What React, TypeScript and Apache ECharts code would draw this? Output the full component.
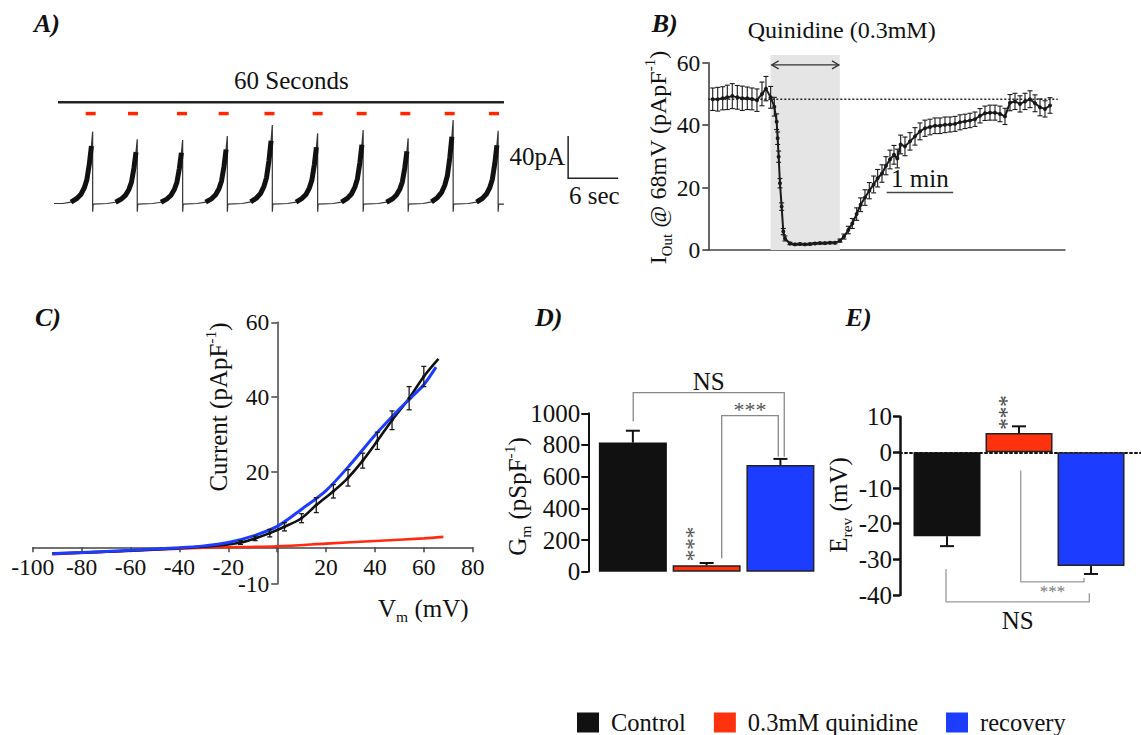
import React, { useEffect, useRef } from "react";
import * as echarts from "echarts";

const FF = '"Liberation Serif","Times New Roman",serif';

// ---------- Panel A: raw current trace ----------
const aDropTimes = [4.64, 9.99, 15.44, 20.8, 26.2, 31.64, 37.1, 42.5, 47.9, 53.3]; // s
const aPeaks = [67.9, 60.7, 60.0, 63.8, 74.2, 66.4, 69.5, 61.6, 78.9, 68.8]; // pA
const aRiseOffsets = [-3.6, -2.6, -1.9, -1.4, -1.0, -0.7, -0.4, -0.15, 0]; // s before drop
const aRiseFraction = [0, 0.02, 0.07, 0.13, 0.22, 0.33, 0.55, 0.8, 1];
const aDropMin = -7.8;
const aAfterDrop = -0.5;
const aTraceEnd = 54.0;
const aTopLine = [0.48, 54.0, 95.6]; // start s, end s, level
const aDashCenters = [4.4, 9.48, 15.36, 20.36, 25.86, 31.64, 36.92, 42.16, 47.48, 52.8];
const aDashLevel = 85;
const aDashHalf = 0.6;
const aScale = { t: 61.7, i: 23.8, sec: 6, pA: 40 };

// ---------- Panel B: time course ----------
const bTime = [0.066, 0.141, 0.216, 0.285, 0.36, 0.435, 0.51, 0.585, 0.655, 0.73, 0.805, 0.865, 0.935,
  0.99, 1.025, 1.04, 1.055, 1.075, 1.1, 1.125, 1.15,
  1.225, 1.3, 1.375, 1.45, 1.525, 1.6, 1.675, 1.75, 1.825, 1.9,
  1.975, 2.035, 2.1, 2.16, 2.225, 2.285, 2.35, 2.415, 2.48, 2.54, 2.605, 2.665, 2.725, 2.785, 2.835, 2.885, 2.95,
  3.025, 3.1, 3.175, 3.25, 3.325, 3.4, 3.475, 3.55, 3.625, 3.7, 3.775, 3.85, 3.925, 4.0, 4.075, 4.15, 4.225, 4.3,
  4.375, 4.45, 4.525, 4.6, 4.675, 4.75, 4.825, 4.9, 4.975, 5.05, 5.125];
const bMean = [48.3, 48.3, 48.6, 48.9, 49.3, 48.9, 48.6, 48.6, 48.4, 48.0, 50.0, 51.7, 48.9,
  45.9, 41.1, 35.8, 29.9, 21.4, 13.9, 5.9, 3.7,
  2.1, 1.8, 1.9, 1.8, 1.9, 2.1, 2.2, 2.2, 2.3, 2.3,
  3.0, 4.3, 6.4, 8.5, 11.5, 14.5, 16.8, 19.0, 21.0, 23.0, 24.5, 27.0, 29.0, 30.5, 29.3, 33.8, 33.2,
  34.8, 36.4, 38.0, 39.0, 39.4, 39.8, 39.8, 40.1, 40.2, 40.4, 40.9, 41.2, 41.5, 41.9, 43.0, 43.8, 44.0, 44.0,
  43.6, 42.8, 47.2, 47.6, 46.8, 47.6, 48.3, 47.0, 45.7, 45.2, 46.3];
const bErr = [3.6, 3.8, 3.7, 3.9, 4.0, 3.8, 3.9, 3.6, 3.5, 3.6, 3.8, 3.9, 3.5,
  3.0, 2.5, 2.0, 1.8, 1.5, 1.2, 1.0, 0.8,
  0.4, 0.3, 0.3, 0.3, 0.3, 0.3, 0.3, 0.3, 0.3, 0.3,
  0.5, 0.8, 1.2, 1.6, 2.0, 2.2, 2.5, 2.6, 2.7, 2.8, 2.8, 2.9, 3.0, 3.0, 3.0, 3.0, 3.0,
  2.8, 2.8, 2.7, 2.6, 2.5, 2.5, 2.5, 2.5, 2.4, 2.4, 2.4, 2.3, 2.3, 2.3, 2.3, 2.3, 2.4, 2.4,
  2.5, 2.6, 2.6, 2.6, 2.6, 2.6, 2.7, 2.7, 2.7, 2.6, 2.5];
const bDrug = [0.934, 1.973, 62.5]; // start, end (min), top
const bArrow = [0.95, 1.96, 59.3];
const bControlLevel = [0, 5.24, 48.3];
const bMinuteBar = [2.675, 3.673, 18.4];

// ---------- Panel C: I-V curves ----------
const cBlackV = [-92, -80, -60, -40, -30, -20, -15, -9, -3, 3, 10, 16, 23, 29, 35, 41, 47, 54, 60, 66];
const cBlackI = [-1.8, -1.6, -1.1, -0.4, 0, 0.6, 1.1, 2.2, 3.6, 5.3, 7.6, 11.1, 14.8, 18.4, 23.0, 28.3, 33.8, 39.7, 45.5, 50.2];
const cBlackErrV = [-15, -9, -3, 3, 10, 16, 23, 29, 35, 41, 47, 54, 60];
const cBlackErr = [0.5, 0.6, 1.0, 1.1, 1.2, 2.0, 1.8, 2.2, 2.0, 2.3, 2.5, 3.1, 2.7];
const cBlueV = [-92, -80, -60, -40, -30, -20, -10, 0, 10, 20, 30, 40, 50, 55, 60, 65];
const cBlueI = [-1.9, -1.6, -1.0, -0.3, 0.2, 1.1, 2.8, 5.4, 10.0, 15.0, 22.0, 29.8, 36.8, 40.0, 43.3, 48.0];
const cRedV = [-92, -60, -30, 0, 20, 40, 60, 68];
const cRedI = [-2.0, -1.1, -0.3, 0.1, 0.8, 1.5, 2.2, 2.6];
const cXTicks = [-100, -80, -60, -40, -20, 0, 20, 40, 60, 80];
const cYTickLabels = [-10, 20, 40, 60];

// ---------- Panels D & E: bars ----------
const groups = ["Control", "0.3mM quinidine", "recovery"];
const groupColors = ["#111111", "#ff3210", "#1c3cff"];
const dGm = [815, 40, 674];
const dGmErr = [75, 15, 38];
const eRev = [-23.5, 5.4, -31.9];
const eRevErr = [2.8, 1.9, 2.2];
// brackets: [xLeft, xRight, yBar, yLeftEnd, yRightEnd]
const dBracketNS = [0.005, 2.052, 1131, 948, 726];
const dBracketStars = [1.204, 1.971, 985, 85, 726];
const eBracketStars = [1.024, 1.903, -36.3, -5.1, -35.2];
const eBracketNS = [-0.014, 1.976, -41.9, -32.7, -39.5];

const cIdx = (v: number[], i: number[]) => v.map((x, k) => [x, i[k]]);

function buildTrace() {
  const pts: number[][] = [[0, 0]];
  aDropTimes.forEach((T, k) => {
    const P = aPeaks[k];
    aRiseOffsets.forEach((o, j) => pts.push([T + o, P * aRiseFraction[j]]));
    pts.push([T, aDropMin]);
    pts.push([T + 0.06, aAfterDrop]);
  });
  pts.push([aTraceEnd, aAfterDrop]);
  return pts;
}
function buildBands() {
  return aDropTimes.map((T, k) => ({
    coords: aRiseOffsets.slice(1, 8).map((o, j) => [T + o, aPeaks[k] * aRiseFraction[j + 1]]),
  }));
}

const axisTxt = (size: number) => ({ fontSize: size, fontFamily: FF, color: "#111" });

function bracketSeries(ai: number, b: number[], label: string, dy: number, color: string, fontSize: number, labelColor: string) {
  return {
    type: "custom",
    xAxisIndex: ai,
    yAxisIndex: ai,
    clip: false,
    silent: true,
    z: 6,
    data: [b],
    renderItem: (_p: any, api: any) => {
      const L = api.coord([api.value(0), api.value(2)]);
      const R = api.coord([api.value(1), api.value(2)]);
      const Lb = api.coord([api.value(0), api.value(3)]);
      const Rb = api.coord([api.value(1), api.value(4)]);
      return {
        type: "group",
        children: [
          { type: "polyline", shape: { points: [Lb, L, R, Rb] }, style: { stroke: color, lineWidth: 1.3, fill: "none" } },
          {
            type: "text",
            x: (L[0] + R[0]) / 2,
            y: L[1] + dy,
            style: { text: label, fontFamily: FF, fontSize, fill: labelColor, align: "center", verticalAlign: "middle" },
          },
        ],
      };
    },
  };
}

function barErrSeries(ai: number, means: number[], errs: number[]) {
  return {
    type: "custom",
    xAxisIndex: ai,
    yAxisIndex: ai,
    clip: false,
    silent: true,
    z: 4,
    data: means.map((m, i) => [i, m, errs[i]]),
    renderItem: (_p: any, api: any) => {
      const x = api.value(0), m = api.value(1), e = api.value(2);
      const dir = m < 0 ? -1 : 1;
      const a = api.coord([x, m]);
      const b = api.coord([x, m + dir * Math.abs(e)]);
      const w = 7;
      const st = { stroke: "#111", lineWidth: 2 };
      return {
        type: "group",
        children: [
          { type: "line", shape: { x1: a[0], y1: a[1], x2: b[0], y2: b[1] }, style: st },
          { type: "line", shape: { x1: b[0] - w, y1: b[1], x2: b[0] + w, y2: b[1] }, style: st },
        ],
      };
    },
  };
}

function ptErrSeries(ai: number, xs: number[], ms: number[], es: number[], w: number, lw: number, dot: number) {
  return {
    type: "custom",
    xAxisIndex: ai,
    yAxisIndex: ai,
    clip: false,
    silent: true,
    z: 5,
    data: xs.map((x, i) => [x, ms[i], es[i]]),
    renderItem: (_p: any, api: any) => {
      const x = api.value(0), m = api.value(1), e = api.value(2);
      const t = api.coord([x, m + e]);
      const b = api.coord([x, m - e]);
      const c = api.coord([x, m]);
      const st = { stroke: "#1a1a1a", lineWidth: lw };
      const ch: any[] = [
        { type: "line", shape: { x1: t[0], y1: t[1], x2: b[0], y2: b[1] }, style: st },
        { type: "line", shape: { x1: t[0] - w, y1: t[1], x2: t[0] + w, y2: t[1] }, style: st },
        { type: "line", shape: { x1: b[0] - w, y1: b[1], x2: b[0] + w, y2: b[1] }, style: st },
      ];
      if (dot > 0) ch.push({ type: "circle", shape: { cx: c[0], cy: c[1], r: dot }, style: { fill: "#111" } });
      return { type: "group", children: ch };
    },
  };
}

function txt(text: string, x: number, y: number, o: any = {}) {
  return {
    type: "text",
    x,
    y,
    rotation: o.rot || 0,
    silent: true,
    style: {
      text,
      fontFamily: FF,
      fontSize: o.size || 25,
      fontWeight: o.bold ? "bold" : "normal",
      fontStyle: o.italic ? "italic" : "normal",
      fill: o.fill || "#111",
      align: o.align || "center",
      verticalAlign: o.va || "middle",
      rich: o.rich,
    },
  };
}

const richLabel = (size: number) => ({
  n: { fontSize: size, fontFamily: FF, fill: "#111", lineHeight: 32 },
  sub: { fontSize: size * 0.62, fontFamily: FF, fill: "#111", verticalAlign: "bottom" },
  sup: { fontSize: size * 0.62, fontFamily: FF, fill: "#111", verticalAlign: "top" },
});

// C grid geometry
const C_LEFT = 32.7, C_TOP = 322.3, C_W = 440, C_H = 261.7;
const C_X0 = 277.3, C_Y0 = 547.3; // pixel of x=0 and y=0 (where the axes cross)

function buildOption() {
  const hiddenAxis = { show: false };
  const series: any[] = [];

  // A
  series.push({
    type: "line", xAxisIndex: 0, yAxisIndex: 0, data: buildTrace(), symbol: "none", silent: true,
    lineStyle: { color: "#333", width: 1.2 }, z: 2,
  });
  series.push({
    type: "lines", coordinateSystem: "cartesian2d", xAxisIndex: 0, yAxisIndex: 0, polyline: true, silent: true,
    data: buildBands(), lineStyle: { color: "#111", width: 5, opacity: 1 }, z: 3,
  });
  series.push({
    type: "custom", xAxisIndex: 0, yAxisIndex: 0, clip: false, silent: true, z: 4, data: [[0, 0]],
    renderItem: (_p: any, api: any) => {
      const ch: any[] = [];
      const a = api.coord([aTopLine[0], aTopLine[2]]), b = api.coord([aTopLine[1], aTopLine[2]]);
      ch.push({ type: "line", shape: { x1: a[0], y1: a[1], x2: b[0], y2: b[1] }, style: { stroke: "#222", lineWidth: 2.5 } });
      aDashCenters.forEach((t) => {
        const l = api.coord([t - aDashHalf, aDashLevel]), r = api.coord([t + aDashHalf, aDashLevel]);
        ch.push({ type: "line", shape: { x1: l[0], y1: l[1], x2: r[0], y2: r[1] }, style: { stroke: "#ff2600", lineWidth: 3.5 } });
      });
      const o = api.coord([aScale.t, aScale.i]);
      const top = api.coord([aScale.t, aScale.i + aScale.pA]);
      const right = api.coord([aScale.t + aScale.sec, aScale.i]);
      ch.push({ type: "polyline", shape: { points: [top, o, right] }, style: { stroke: "#222", lineWidth: 1.5, fill: "none" } });
      return { type: "group", children: ch };
    },
  });

  // B
  series.push({
    type: "custom", xAxisIndex: 1, yAxisIndex: 1, clip: false, silent: true, z: 1, data: [[0, 0]],
    renderItem: (_p: any, api: any) => {
      const p0 = api.coord([bDrug[0], bDrug[2]]);
      const p1 = api.coord([bDrug[1], 0]);
      const a0 = api.coord([bArrow[0], bArrow[2]]);
      const a1 = api.coord([bArrow[1], bArrow[2]]);
      const h = 5;
      const st = { stroke: "#333", lineWidth: 1.2, fill: "none" };
      return {
        type: "group",
        children: [
          { type: "rect", shape: { x: p0[0], y: p0[1], width: p1[0] - p0[0], height: p1[1] - p0[1] }, style: { fill: "#e5e5e5" } },
          { type: "line", shape: { x1: a0[0], y1: a0[1], x2: a1[0], y2: a1[1] }, style: st },
          { type: "polyline", shape: { points: [[a0[0] + 7, a0[1] - h + 1], [a0[0], a0[1]], [a0[0] + 7, a0[1] + h - 1]] }, style: st },
          { type: "polyline", shape: { points: [[a1[0] - 7, a1[1] - h + 1], [a1[0], a1[1]], [a1[0] - 7, a1[1] + h - 1]] }, style: st },
        ],
      };
    },
  });
  series.push({
    type: "custom", xAxisIndex: 1, yAxisIndex: 1, clip: false, silent: true, z: 2, data: [[0, 0]],
    renderItem: (_p: any, api: any) => {
      const a = api.coord([bControlLevel[0], bControlLevel[2]]);
      const b = api.coord([bControlLevel[1], bControlLevel[2]]);
      return { type: "line", shape: { x1: a[0], y1: a[1], x2: b[0], y2: b[1] }, style: { stroke: "#222", lineWidth: 1.5, lineDash: [2, 2] } };
    },
  });
  series.push({
    type: "line", xAxisIndex: 1, yAxisIndex: 1, data: cIdx(bTime, bMean), symbol: "circle", symbolSize: 4, silent: true,
    lineStyle: { color: "#1a1a1a", width: 2 }, itemStyle: { color: "#1a1a1a" }, z: 3,
  });
  series.push(ptErrSeries(1, bTime, bMean, bErr, 2.5, 1.1, 0));
  series.push({
    type: "custom", xAxisIndex: 1, yAxisIndex: 1, clip: false, silent: true, z: 6, data: [[0, 0]],
    renderItem: (_p: any, api: any) => {
      const a = api.coord([bMinuteBar[0], bMinuteBar[2]]);
      const b = api.coord([bMinuteBar[1], bMinuteBar[2]]);
      return {
        type: "group",
        children: [
          { type: "line", shape: { x1: a[0], y1: a[1], x2: b[0], y2: b[1] }, style: { stroke: "#444", lineWidth: 1.5 } },
          { type: "text", x: (a[0] + b[0]) / 2, y: a[1] - 2, style: { text: "1 min", fontFamily: FF, fontSize: 25, fill: "#111", align: "center", verticalAlign: "bottom" } },
        ],
      };
    },
  });

  // C
  series.push({
    type: "line", xAxisIndex: 2, yAxisIndex: 2, data: cIdx(cRedV, cRedI), symbol: "none", smooth: 0.3, silent: true,
    lineStyle: { color: "#ff2a10", width: 2.6 }, z: 2,
  });
  series.push({
    type: "line", xAxisIndex: 2, yAxisIndex: 2, data: cIdx(cBlackV, cBlackI), symbol: "none", smooth: 0.3, silent: true,
    lineStyle: { color: "#111", width: 2.6 }, z: 3,
  });
  series.push({
    type: "line", xAxisIndex: 2, yAxisIndex: 2, data: cIdx(cBlueV, cBlueI), symbol: "none", smooth: 0.3, silent: true,
    lineStyle: { color: "#1c3cff", width: 3 }, z: 4,
  });
  series.push(ptErrSeries(2, cBlackErrV, cBlackErrV.map((v) => cBlackI[cBlackV.indexOf(v)]), cBlackErr, 2.5, 1.3, 1.6));

  // D & E bars
  groups.forEach((g, i) => {
    const isBlack = i === 0;
    const base = {
      type: "bar", name: g, barGap: "-100%", silent: true, z: 2,
      itemStyle: { color: groupColors[i], borderColor: isBlack ? groupColors[i] : "#222", borderWidth: isBlack ? 0 : 1.5 },
    };
    series.push({ ...base, xAxisIndex: 3, yAxisIndex: 3, barWidth: 68, data: [[i, dGm[i]]] });
    series.push({ ...base, xAxisIndex: 4, yAxisIndex: 4, barWidth: 67, data: [[i, eRev[i]]] });
  });
  series.push(barErrSeries(3, dGm, dGmErr));
  series.push(barErrSeries(4, eRev, eRevErr));
  series.push(bracketSeries(3, dBracketNS, "NS", -11, "#888", 25, "#111"));
  series.push(bracketSeries(3, dBracketStars, "***", -6, "#888", 22, "#555"));
  series.push(bracketSeries(4, eBracketStars, "***", 10, "#999", 17, "#777"));
  series.push(bracketSeries(4, eBracketNS, "NS", 19, "#999", 25, "#111"));

  const noGrid = { show: false };
  const plain = (v: number) => String(v);
  return {
    animation: false,
    backgroundColor: "#fff",
    textStyle: { fontFamily: FF },
    grid: [
      { left: 54, top: 97.7, width: 583.3, height: 116.4, outerBoundsMode: "none", containLabel: false },
      { left: 708.3, top: 62.7, width: 356.7, height: 187.3, outerBoundsMode: "none", containLabel: false },
      { left: C_LEFT, top: C_TOP, width: C_W, height: C_H, outerBoundsMode: "none", containLabel: false },
      { left: 588.3, top: 413.3, width: 229, height: 158.4, outerBoundsMode: "none", containLabel: false },
      { left: 900, top: 416.7, width: 241, height: 178.3, outerBoundsMode: "none", containLabel: false },
    ],
    xAxis: [
      { gridIndex: 0, type: "value", min: 0, max: 70, ...hiddenAxis },
      {
        gridIndex: 1, type: "value", min: 0, max: 5.35,
        axisLine: { show: true, onZero: false, lineStyle: { color: "#444", width: 1.5 } },
        axisTick: { show: false }, axisLabel: { show: false }, splitLine: noGrid,
      },
      {
        gridIndex: 2, type: "value", min: -100, max: 80, interval: 20, position: "bottom",
        offset: -(C_TOP + C_H - C_Y0),
        axisLine: { show: true, onZero: false, lineStyle: { color: "#444", width: 1.5 } },
        axisTick: { show: true, inside: false, length: 5, customValues: cXTicks, lineStyle: { color: "#444", width: 1.5 } },
        axisLabel: {
          ...axisTxt(23.5), margin: 8, showMinLabel: true, showMaxLabel: true,
          customValues: cXTicks.filter((v) => v !== 0),
          formatter: (v: number) => (v === 0 ? "" : String(v)),
        },
        splitLine: noGrid,
      },
      { gridIndex: 3, type: "value", min: -0.604, max: 2.5, ...hiddenAxis },
      {
        gridIndex: 4, type: "value", min: -0.653, max: 2.694,
        axisLine: { show: true, onZero: true, lineStyle: { color: "#111", width: 2, type: [2, 3] } },
        axisTick: { show: false }, axisLabel: { show: false }, splitLine: noGrid,
      },
    ],
    yAxis: [
      { gridIndex: 0, type: "value", min: -10, max: 100, ...hiddenAxis },
      {
        gridIndex: 1, type: "value", min: 0, max: 60, interval: 20,
        axisLine: { show: true, onZero: false, lineStyle: { color: "#333", width: 1.5 } },
        axisTick: { show: true, length: 6, lineStyle: { color: "#333", width: 1.5 } },
        axisLabel: { ...axisTxt(23.5), margin: 8, showMinLabel: true, showMaxLabel: true, formatter: plain },
        splitLine: noGrid,
      },
      {
        gridIndex: 2, type: "value", min: -10, max: 60, interval: 10, position: "left",
        offset: -(C_X0 - C_LEFT),
        axisLine: { show: true, onZero: false, lineStyle: { color: "#444", width: 1.5 } },
        axisTick: { show: true, length: 6, customValues: [-10, 0, 20, 40, 60], lineStyle: { color: "#444", width: 1.5 } },
        axisLabel: {
          ...axisTxt(23.5), margin: 8, showMinLabel: true, showMaxLabel: true, customValues: cYTickLabels,
          formatter: (v: number) => (cYTickLabels.indexOf(v) >= 0 ? String(v) : ""),
        },
        splitLine: noGrid,
      },
      {
        gridIndex: 3, type: "value", min: 0, max: 1000, interval: 200,
        axisLine: { show: true, onZero: false, lineStyle: { color: "#111", width: 2 } },
        axisTick: { show: true, length: 7, lineStyle: { color: "#111", width: 2 } },
        axisLabel: { ...axisTxt(25), margin: 8, showMinLabel: true, showMaxLabel: true, formatter: plain },
        splitLine: noGrid,
      },
      {
        gridIndex: 4, type: "value", min: -40, max: 10, interval: 10,
        axisLine: { show: true, onZero: false, lineStyle: { color: "#111", width: 2.5 } },
        axisTick: { show: true, length: 7, lineStyle: { color: "#111", width: 2.5 } },
        axisLabel: { ...axisTxt(25), margin: 8, showMinLabel: true, showMaxLabel: true, formatter: plain },
        splitLine: noGrid,
      },
    ],
    legend: {
      left: 577, top: 710, orient: "horizontal", icon: "rect", itemWidth: 22, itemHeight: 20, itemGap: 28,
      selectedMode: false, padding: 0,
      itemStyle: { borderWidth: 0 },
      textStyle: { fontSize: 24.5, fontFamily: FF, color: "#111", padding: [0, 0, 6, 7] },
      data: groups,
    },
    graphic: [
      txt("A)", 34, 23, { align: "left", bold: true, italic: true, size: 26 }),
      txt("B)", 651.7, 23, { align: "left", bold: true, italic: true, size: 26 }),
      txt("C)", 35, 317, { align: "left", bold: true, italic: true, size: 26 }),
      txt("D)", 535, 317, { align: "left", bold: true, italic: true, size: 26 }),
      txt("E)", 845.6, 317, { align: "left", bold: true, italic: true, size: 26 }),
      txt("60 Seconds", 291.4, 80, { size: 25 }),
      txt("40pA", 565, 156.7, { size: 25, align: "right" }),
      txt("6 sec", 569, 195, { size: 25, align: "left" }),
      txt("Quinidine (0.3mM)", 841.7, 30, { size: 24 }),
      txt("{n|I}{sub|Out}{n| @ 68mV (pApF}{sup|-1}{n|)}", 658.3, 157.5, { rot: Math.PI / 2, size: 24, rich: richLabel(24) }),
      txt("{n|Current (pApF}{sup|-1}{n|)}", 218.3, 407, { rot: Math.PI / 2, size: 25, rich: richLabel(25) }),
      txt("{n|V}{sub|m}{n| (mV)}", 423.3, 608, { size: 25, rich: richLabel(25) }),
      txt("{n|G}{sub|m}{n| (pSpF}{sup|-1}{n|)}", 517, 496.5, { rot: Math.PI / 2, size: 25, rich: richLabel(25) }),
      txt("{n|E}{sub|rev}{n| (mV)}", 838, 505, { rot: Math.PI / 2, size: 25, rich: richLabel(25) }),
      txt("***", 693, 544, { size: 23, fill: "#555", rot: Math.PI / 2 }),
      txt("***", 1006, 412.5, { size: 23, fill: "#444", rot: Math.PI / 2 }),
    ],
    series,
  };
}

export default function App() {
  const ref = useRef<HTMLDivElement>(null);
  useEffect(() => {
    if (!ref.current) return;
    const chart = echarts.init(ref.current, null, { renderer: "svg" });
    chart.setOption(buildOption() as any);
    return () => chart.dispose();
  }, []);
  return (
    <div
      ref={ref}
      style={{ position: "fixed", left: 0, top: 0, width: 1141, height: 735, background: "#fff" }}
    />
  );
}
